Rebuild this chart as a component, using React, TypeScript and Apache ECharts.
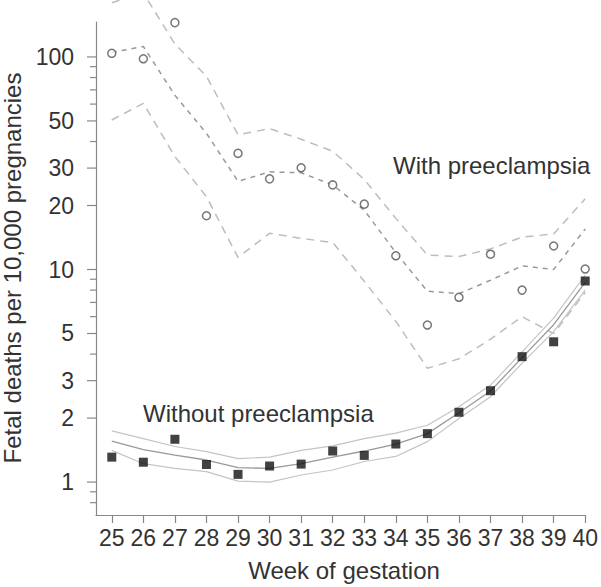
import React, { useEffect, useRef } from "react";
import * as echarts from "echarts";

const weeks = [25, 26, 27, 28, 29, 30, 31, 32, 33, 34, 35, 36, 37, 38, 39, 40];

// With preeclampsia
const withObserved = [104, 98, 145, 17.9, 35.2, 26.7, 30.1, 25.0, 20.3, 11.6, 5.48, 7.4, 11.8, 8.0, 12.9, 10.05];
const withFit = [105, 112, 66, 43.7, 26, 28.8, 28.5, 25, 19, 12, 7.9, 7.7, 8.9, 10.4, 10.0, 15.5];
const withUpper = [180, 200, 115, 81, 43, 46, 41, 36, 26.5, 17.4, 11.7, 11.5, 12.5, 14.2, 14.7, 21.5];
const withLower = [50.5, 60.5, 34, 22, 11.4, 14.8, 14.0, 13.4, 8.8, 5.7, 3.43, 3.8, 4.7, 6.0, 5.0, 7.8];

// Without preeclampsia
const withoutObserved = [1.31, 1.24, 1.59, 1.21, 1.087, 1.19, 1.215, 1.40, 1.335, 1.51, 1.69, 2.13, 2.69, 3.89, 4.57, 8.83];
const withoutFit = [1.56, 1.42, 1.34, 1.27, 1.17, 1.16, 1.22, 1.31, 1.40, 1.51, 1.69, 2.12, 2.68, 3.85, 5.5, 8.7];
const withoutUpper = [1.74, 1.60, 1.47, 1.39, 1.29, 1.31, 1.41, 1.48, 1.60, 1.70, 1.85, 2.26, 2.86, 4.1, 5.9, 9.4];
const withoutLower = [1.41, 1.22, 1.16, 1.12, 1.01, 1.0, 1.08, 1.14, 1.25, 1.32, 1.55, 1.99, 2.52, 3.63, 5.1, 8.0];

// Axis ticks
const yLabeledTicks = [1, 2, 3, 5, 10, 20, 30, 50, 100];
const yMinorTicks = [0.8, 0.9, 4, 6, 7, 8, 9, 40, 60, 70, 80, 90];
const xMin = 24.5;
const xMax = 40;
const yMin = 0.7;
const yMax = 146;

const FONT = "'Liberation Sans', Arial, Helvetica, sans-serif";
const TEXT = "#333";
const AXIS = "#888";

const pair = (ys: number[]) => weeks.map((w, i) => [w, ys[i]]);

export default function App() {
  const ref = useRef<HTMLDivElement>(null);
  useEffect(() => {
    if (!ref.current) return;
    const chart = echarts.init(ref.current, null, { renderer: "svg" });
    const tickData = [
      ...yLabeledTicks.map((v) => [xMin, v, 1]),
      ...yMinorTicks.map((v) => [xMin, v, 0]),
    ];
    const dashedLine = (data: number[][], color: string, type: number[], width: number, z: number) => ({
      type: "line",
      data,
      symbol: "none",
      clip: false,
      z,
      lineStyle: { color, width, type },
      silent: true,
    });
    const solidLine = (data: number[][], color: string, width: number, z: number) => ({
      type: "line",
      data,
      symbol: "none",
      clip: false,
      z,
      lineStyle: { color, width, type: "solid" },
      silent: true,
    });
    chart.setOption({
      animation: false,
      backgroundColor: "#fff",
      grid: { left: 96, right: 13, top: 22, bottom: 72, containLabel: false },
      xAxis: {
        type: "value",
        min: xMin,
        max: xMax,
        axisLine: { show: true, onZero: false, lineStyle: { color: AXIS, width: 1.2 } },
        axisTick: { show: true, customValues: weeks, length: 8, lineStyle: { color: AXIS, width: 1.2 } },
        axisLabel: { show: true, customValues: weeks, margin: 11, fontSize: 23, color: TEXT, fontFamily: FONT },
        splitLine: { show: false },
      },
      yAxis: {
        type: "log",
        logBase: 10,
        min: yMin,
        max: yMax,
        axisLine: { show: true, onZero: false, lineStyle: { color: AXIS, width: 1.2 } },
        axisTick: { show: false },
        axisLabel: { show: false },
        splitLine: { show: false },
      },
      graphic: [
        {
          type: "text",
          x: 12,
          y: 268,
          rotation: Math.PI / 2,
          style: {
            text: "Fetal deaths per 10,000 pregnancies",
            align: "center",
            verticalAlign: "middle",
            fontSize: 24,
            fontFamily: FONT,
            fill: TEXT,
          },
        },
        {
          type: "text",
          x: 344,
          y: 570,
          style: {
            text: "Week of gestation",
            align: "center",
            verticalAlign: "middle",
            fontSize: 24,
            fontFamily: FONT,
            fill: TEXT,
          },
        },
        {
          type: "text",
          x: 393,
          y: 165,
          style: {
            text: "With preeclampsia",
            align: "left",
            verticalAlign: "middle",
            fontSize: 24,
            fontFamily: FONT,
            fill: TEXT,
          },
        },
        {
          type: "text",
          x: 143,
          y: 413,
          style: {
            text: "Without preeclampsia",
            align: "left",
            verticalAlign: "middle",
            fontSize: 24,
            fontFamily: FONT,
            fill: TEXT,
          },
        },
      ],
      series: [
        {
          type: "custom",
          coordinateSystem: "cartesian2d",
          clip: false,
          silent: true,
          data: tickData,
          renderItem: (params: any, api: any) => {
            const v = api.value(1);
            const major = api.value(2) === 1;
            const p = api.coord([xMin, v]);
            const len = major ? 9 : 6;
            const children: any[] = [
              {
                type: "line",
                shape: { x1: p[0] - len, y1: p[1], x2: p[0], y2: p[1] },
                style: { stroke: AXIS, lineWidth: 1.2 },
              },
            ];
            if (major) {
              children.push({
                type: "text",
                x: p[0] - 22,
                y: p[1],
                style: {
                  text: String(v),
                  align: "right",
                  verticalAlign: "middle",
                  fontSize: 23,
                  fontFamily: FONT,
                  fill: TEXT,
                },
              });
            }
            return { type: "group", children };
          },
        },
        dashedLine(pair(withUpper), "#bdbdbd", [8, 6], 1.5, 2),
        dashedLine(pair(withLower), "#bdbdbd", [8, 6], 1.5, 2),
        dashedLine(pair(withFit), "#999", [5, 5], 1.5, 3),
        solidLine(pair(withoutUpper), "#c4c4c4", 1.2, 2),
        solidLine(pair(withoutLower), "#c4c4c4", 1.2, 2),
        solidLine(pair(withoutFit), "#999", 1.3, 3),
        {
          type: "scatter",
          data: pair(withObserved),
          symbol: "circle",
          symbolSize: 8,
          clip: false,
          z: 5,
          itemStyle: { color: "#fff", borderColor: "#555", borderWidth: 1.5 },
          silent: true,
        },
        {
          type: "scatter",
          data: pair(withoutObserved),
          symbol: "rect",
          symbolSize: 9,
          clip: false,
          z: 5,
          itemStyle: { color: "#111" },
          silent: true,
        },
      ],
    });
    return () => chart.dispose();
  }, []);
  return (
    <div
      ref={ref}
      style={{ position: "fixed", left: 0, top: 0, width: 601, height: 587, background: "#fff" }}
    />
  );
}
